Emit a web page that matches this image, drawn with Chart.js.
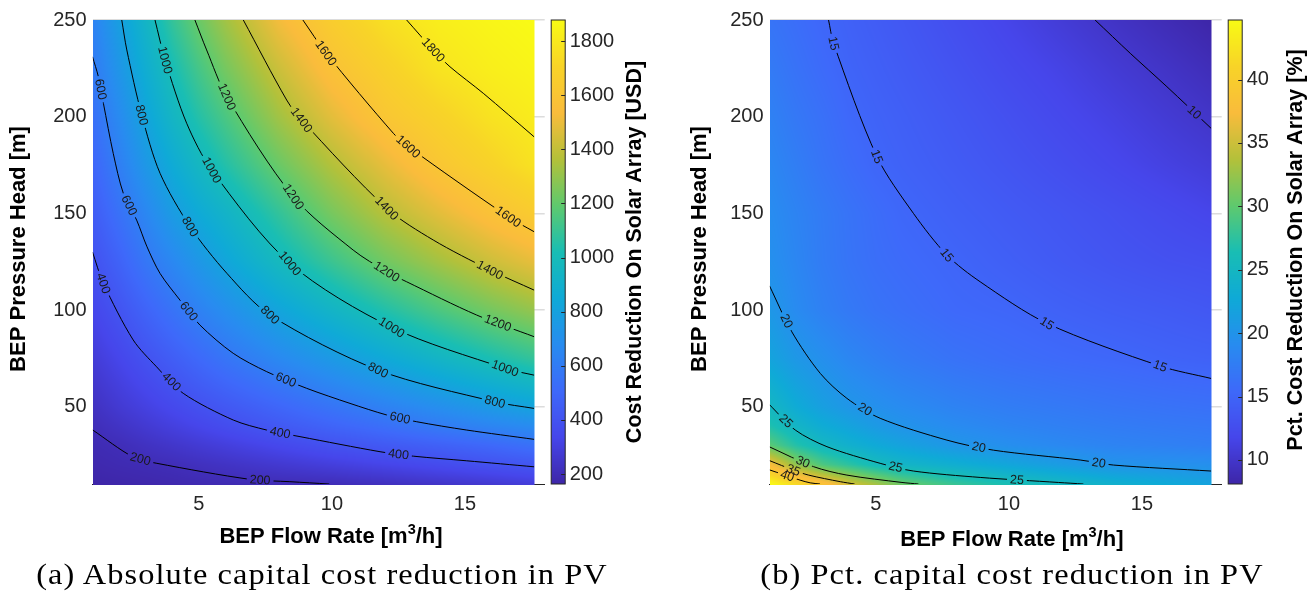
<!DOCTYPE html>
<html>
<head>
<meta charset="utf-8">
<title>Capital cost reduction in PV</title>
<script src="https://cdn.jsdelivr.net/npm/chart.js@4.4.1/dist/chart.umd.min.js"></script>
<style>
  html, body { margin: 0; padding: 0; background: #fff; }
  body { width: 1314px; height: 597px; position: relative; overflow: hidden; }
  .panel { position: absolute; top: 0; width: 657px; height: 560px; }
  .caption {
    position: absolute; top: 559px; transform: translateX(-50%) scaleX(1.08);
    font-family: 'Liberation Serif', 'Times New Roman', serif; font-size: 30px; line-height: 30px;
    letter-spacing: 1px; color: #000; white-space: nowrap;
  }
</style>
</head>
<body>
<div class="panel" style="left:0"><canvas id="absChart"></canvas></div>
<div class="panel" style="left:677px"><canvas id="pctChart"></canvas></div>
<div class="caption" style="left:322px">(a) Absolute capital cost reduction in PV</div>
<div class="caption" style="left:1012px">(b) Pct. capital cost reduction in PV</div>
<script>
// grid of the surface: BEP flow rate [m3/h] x BEP pressure head [m]
const flowRates = [1, 2, 3, 4, 5, 6, 8, 10, 12, 14, 16, 17.6];
const pressureHeads = [10, 20, 30, 40, 50, 75, 100, 125, 150, 175, 200, 225, 250];

// cost reduction on solar array [USD], one row per pressure head
const absReduction = [
  [163, 168, 173, 180, 186, 190, 197, 203, 222, 245, 268, 290],
  [178, 188, 196, 204, 220, 235, 266, 297, 328, 359, 390, 414],
  [190, 203, 227, 250, 274, 297, 344, 391, 430, 465, 505, 545],
  [205, 237, 270, 303, 335, 367, 427, 483, 539, 596, 645, 680],
  [226, 271, 309, 348, 387, 423, 493, 563, 630, 695, 761, 813],
  [281, 335, 393, 450, 507, 564, 664, 756, 847, 936, 1023, 1087],
  [336, 404, 480, 555, 627, 692, 819, 933, 1043, 1146, 1238, 1302],
  [390, 475, 573, 657, 742, 823, 972, 1105, 1228, 1330, 1425, 1489],
  [441, 546, 653, 765, 850, 923, 1082, 1241, 1371, 1477, 1577, 1645],
  [490, 614, 743, 856, 955, 1046, 1213, 1363, 1490, 1608, 1696, 1768],
  [540, 672, 816, 942, 1050, 1142, 1326, 1480, 1609, 1690, 1772, 1812],
  [589, 734, 877, 1011, 1130, 1238, 1420, 1579, 1682, 1776, 1824, 1850],
  [630, 785, 936, 1087, 1216, 1326, 1519, 1656, 1758, 1820, 1855, 1878]
];

// pct. cost reduction on solar array [%], one row per pressure head
const pctReduction = [
  [44.7, 41.5, 38.5, 35.3, 33.0, 30.5, 28.0, 26.3, 25.1, 23.8, 22.7, 21.8],
  [37.5, 32.2, 29.1, 27.4, 25.7, 24.6, 23.4, 22.2, 21.0, 19.95, 19.7, 19.5],
  [29.8, 27.0, 25.1, 23.8, 22.7, 21.8, 20.3, 19.4, 18.7, 18.2, 17.9, 17.6],
  [26.8, 24.6, 23.0, 21.9, 20.8, 20.0, 19.0, 18.3, 17.8, 17.4, 17.1, 16.9],
  [25.0, 22.9, 21.4, 20.3, 19.6, 19.0, 18.1, 17.5, 17.1, 16.7, 16.4, 16.2],
  [22.0, 20.5, 19.5, 18.5, 17.8, 17.2, 16.4, 15.9, 15.5, 15.2, 14.8, 14.6],
  [20.5, 19.0, 17.9, 17.1, 16.5, 16.1, 15.4, 15.1, 14.6, 14.2, 13.9, 13.6],
  [19.6, 18.5, 17.4, 16.6, 16.0, 15.6, 15.0, 14.4, 13.8, 13.3, 12.9, 12.7],
  [19.2, 18.2, 17.3, 16.5, 15.8, 15.2, 14.5, 13.9, 13.35, 12.8, 12.2, 11.7],
  [18.6, 17.6, 16.6, 15.8, 15.1, 14.7, 14.0, 13.3, 12.6, 11.9, 11.2, 10.7],
  [18.0, 17.0, 16.2, 15.3, 14.8, 14.4, 13.6, 12.8, 12.0, 11.25, 10.45, 9.85],
  [17.3, 16.4, 15.6, 14.9, 14.45, 14.0, 13.1, 12.2, 11.4, 10.5, 9.7, 9.0],
  [16.6, 15.9, 15.15, 14.6, 14.1, 13.6, 12.6, 11.6, 10.6, 9.67, 8.8, 8.1]
];

const flowTicks = [5, 10, 15];
const headTicks = [50, 100, 150, 200, 250];
const absBarTicks = [200, 400, 600, 800, 1000, 1200, 1400, 1600, 1800];
const pctBarTicks = [10, 15, 20, 25, 30, 35, 40];
const absRange = [163, 1878];
const pctRange = [8.1, 44.7];

// contour lines [flow, head]
const abs200 = [[1, 38], [2.52, 24], [3.42, 20.7], [6.92, 12.4], [8.42, 11.2], [9.9, 10]];
const abs400 = [[1, 130], [1.41, 113.8], [2.53, 84.5], [3.41, 70.6], [4.41, 56.9], [6.29, 43.1],
  [7.55, 37.9], [8.8, 34.5], [11.81, 26.7], [13.06, 24.4], [15.07, 22], [17.6, 18.9]];
const abs600 = [[1, 231], [1.22, 220.7], [1.41, 206.9], [1.78, 181], [2.16, 160.3], [2.66, 146.5], [3.04, 133],
  [3.54, 118.9], [4.29, 105.1], [5.04, 92.2], [6.29, 77.6], [7.55, 68.1], [9.05, 59.5], [10.68, 51.7],
  [12.06, 45.7], [13.19, 42.2], [15.07, 37.9], [17.6, 33.1]];
const abs800 = [[2.1, 250], [2.29, 234.5], [2.85, 200.9], [3.54, 170.7], [4.67, 143.1], [6.05, 119], [7.67, 97.4],
  [11.74, 68.9], [16.13, 52.5], [17.6, 49.1]];
const abs1000 = [[3.35, 250], [3.73, 229.3], [4.54, 196.6], [5.48, 172.4], [8.42, 124.1], [12.25, 91],
  [16.51, 69.8], [17.6, 66.3]];
const abs1200 = [[4.85, 250], [5.29, 234.5], [6.05, 210.3], [8.55, 158.6], [10.8, 131], [12.06, 119.8],
  [12.81, 114.6], [15.44, 97.4], [17.6, 86.2]];
const abs1400 = [[6.67, 250], [8.3, 208.6], [8.86, 198.3], [12.06, 152.6], [13.81, 136.2], [15.94, 120.7], [17.6, 110.3]];
const abs1600 = [[8.91, 250], [9.78, 232.9], [12.31, 191.4], [12.87, 184.5], [16.63, 148.2], [17.6, 140.5]];
const abs1800 = [[12.81, 250], [13.81, 234.5], [14.44, 225.8], [15.69, 212.1], [17.6, 189.6]];

const pct10 = [[13.24, 250], [14.56, 232.8], [15.94, 215.5], [17.6, 194]];
const pct15 = [[3.22, 250], [3.41, 237.9], [5.04, 179.3], [6.41, 150], [7.67, 128.4], [8.92, 114.6],
  [11.43, 93.1], [15.69, 71], [17.6, 64.6]];
const pct20 = [[1, 112.5], [1.84, 88.7], [2.91, 67.2], [3.91, 54.3], [5.16, 44], [7.67, 32.7], [9.42, 27.5],
  [12.68, 22.4], [13.93, 19.8], [17.6, 16.7]];
const pct25 = [[1, 51], [1.97, 37.9], [3.16, 29.3], [5.16, 20.7], [6.41, 16.7], [8.92, 13.4], [11.86, 10.8], [12.8, 10]];
const pct30 = [[1, 29.2], [2.65, 19], [3.91, 14.6], [5.98, 10.8], [6.6, 10]];
const pct35 = [[1, 22.1], [1.9, 17.2], [2.47, 14.6], [3.66, 11.2], [4.2, 10]];
const pct40 = [[1, 17.3], [2.15, 12], [2.53, 10.6], [2.9, 10]];

// where the level labels sit on each line
const absLabelSpots = [
  [[2.79, 22.4], [7.3, 11.7]],
  [[1.41, 113.8], [3.91, 62.1], [8.05, 36.2], [12.5, 25.0]],
  [[1.28, 214.1], [2.41, 154.3], [4.6, 99.1], [8.24, 62.9], [12.56, 44.1]],
  [[2.85, 200.9], [4.67, 143.1], [7.67, 97.4], [11.74, 68.9], [16.13, 52.5]],
  [[3.73, 229.3], [5.48, 172.4], [8.42, 124.1], [12.25, 91.0], [16.51, 69.8]],
  [[6.05, 210.3], [8.55, 158.6], [12.06, 119.8], [16.2, 91.7]],
  [[8.86, 198.3], [12.06, 152.6], [15.94, 120.7]],
  [[9.78, 232.9], [12.87, 184.5], [16.63, 148.2]],
  [[13.81, 234.5]]
];
const pctLabelSpots = [
  [[16.88, 200.9]],
  [[3.41, 237.9], [5.04, 179.3], [7.67, 128.4], [11.43, 93.1], [15.69, 71.0]],
  [[1.59, 93.9], [4.56, 47.9], [8.86, 28.4], [13.37, 20.3]],
  [[1.59, 42.2], [5.73, 18.1], [10.3, 11.7]],
  [[2.22, 20.3]],
  [[1.9, 17.2]],
  [[1.65, 13.4]]
];

const absLevels = [200, 400, 600, 800, 1000, 1200, 1400, 1600, 1800];
const absLines = [abs200, abs400, abs600, abs800, abs1000, abs1200, abs1400, abs1600, abs1800];
const pctLevels = [10, 15, 20, 25, 30, 35, 40];
const pctLines = [pct10, pct15, pct20, pct25, pct30, pct35, pct40];

const SANS = "'Liberation Sans', Arial, Helvetica, sans-serif";
const INK = '#262626';

// parula-like colormap
const parulaStops = [
  [0.00, 62, 38, 168],
  [0.10, 70, 70, 235],
  [0.20, 62, 105, 250],
  [0.30, 40, 140, 240],
  [0.40, 15, 170, 215],
  [0.50, 25, 190, 180],
  [0.60, 95, 202, 110],
  [0.70, 180, 193, 58],
  [0.80, 250, 188, 60],
  [0.90, 248, 212, 40],
  [1.00, 249, 251, 21]
];
function parula(t) {
  t = Math.min(1, Math.max(0, t));
  for (let i = 1; i < parulaStops.length; i++) {
    const b = parulaStops[i];
    if (t <= b[0]) {
      const a = parulaStops[i - 1];
      const f = (t - a[0]) / (b[0] - a[0]);
      return [a[1] + (b[1] - a[1]) * f, a[2] + (b[2] - a[2]) * f, a[3] + (b[3] - a[3]) * f];
    }
  }
  const l = parulaStops[parulaStops.length - 1];
  return [l[1], l[2], l[3]];
}

function locate(nodes, v) {
  let i = 0;
  while (i < nodes.length - 2 && v > nodes[i + 1]) i++;
  const f = Math.min(1, Math.max(0, (v - nodes[i]) / (nodes[i + 1] - nodes[i])));
  return [i, f];
}
function sample(grid, q, h) {
  const [i, fx] = locate(flowRates, q);
  const [j, fy] = locate(pressureHeads, h);
  const lo = grid[j][i] * (1 - fx) + grid[j][i + 1] * fx;
  const hi = grid[j + 1][i] * (1 - fx) + grid[j + 1][i + 1] * fx;
  return lo * (1 - fy) + hi * fy;
}

// snap each label spot onto its drawn line and find the text angle
function placeLabels(chart, cfg) {
  const { x, y } = chart.scales;
  const out = [];
  cfg.spots.forEach((spots, di) => {
    const pts = chart.getDatasetMeta(di).data;
    spots.forEach(([q, h]) => {
      const lx = x.getPixelForValue(q), ly = y.getPixelForValue(h);
      let best = null;
      for (let k = 0; k < pts.length - 1; k++) {
        const p = pts[k], n = pts[k + 1];
        const dx = n.x - p.x, dy = n.y - p.y, len2 = dx * dx + dy * dy || 1;
        const s = Math.min(1, Math.max(0, ((lx - p.x) * dx + (ly - p.y) * dy) / len2));
        const px = p.x + s * dx, py = p.y + s * dy;
        const d = (px - lx) ** 2 + (py - ly) ** 2;
        if (!best || d < best.d) best = { d, px, py, ang: Math.atan2(dy, dx) };
      }
      let ang = best.ang;
      if (ang > Math.PI / 2) ang -= Math.PI;
      if (ang < -Math.PI / 2) ang += Math.PI;
      out.push({ x: best.px, y: best.py, ang, text: String(cfg.levels[di]) });
    });
  });
  return out;
}

function surfacePlugin(cfg) {
  return {
    id: 'surface',
    beforeDatasetsDraw(chart) {
      const { ctx, chartArea: a, scales: { x, y } } = chart;
      const w = Math.ceil(a.right - a.left), h = Math.ceil(a.bottom - a.top) + 1;
      const off = document.createElement('canvas');
      off.width = w; off.height = h;
      const octx = off.getContext('2d');
      const img = octx.createImageData(w, h);
      const qMax = flowRates[flowRates.length - 1];
      for (let py = 0; py < h; py++) {
        const hv = Math.max(pressureHeads[0], y.getValueForPixel(a.top + py + 0.5));
        for (let px = 0; px < w; px++) {
          const qv = x.getValueForPixel(a.left + px + 0.5);
          if (qv > qMax) continue;
          const v = sample(cfg.grid, qv, hv);
          const c = parula((v - cfg.range[0]) / (cfg.range[1] - cfg.range[0]));
          const k = (py * w + px) * 4;
          img.data[k] = c[0]; img.data[k + 1] = c[1]; img.data[k + 2] = c[2]; img.data[k + 3] = 255;
        }
      }
      octx.putImageData(img, 0, 0);
      ctx.drawImage(off, a.left, a.top);

      // leave gaps in the lines where the labels go
      ctx.save();
      ctx.font = '12.5px ' + SANS;
      chart.$labels = placeLabels(chart, cfg);
      ctx.beginPath();
      ctx.rect(a.left, a.top, a.right - a.left, a.bottom - a.top + 2);
      chart.$labels.forEach(l => {
        const hw = ctx.measureText(l.text).width / 2 + 3, hh = 6;
        const c = Math.cos(l.ang), s = Math.sin(l.ang);
        [[-hw, -hh], [hw, -hh], [hw, hh], [-hw, hh]].forEach(([dx, dy], i) => {
          const px = l.x + dx * c - dy * s, py = l.y + dx * s + dy * c;
          if (i === 0) ctx.moveTo(px, py); else ctx.lineTo(px, py);
        });
        ctx.closePath();
      });
      ctx.clip('evenodd');
    },
    afterDatasetsDraw(chart) {
      const ctx = chart.ctx;
      ctx.restore();
      ctx.save();
      ctx.font = '12.5px ' + SANS;
      ctx.fillStyle = '#1a1a1a';
      ctx.textAlign = 'center';
      ctx.textBaseline = 'middle';
      (chart.$labels || []).forEach(l => {
        ctx.save();
        ctx.translate(l.x, l.y);
        ctx.rotate(l.ang);
        ctx.fillText(l.text, 0, 0.5);
        ctx.restore();
      });
      ctx.restore();
    },
    afterDraw(chart) {
      const { ctx, chartArea: a } = chart;
      const cb = chart.scales.cb;
      // colour bar
      const x0 = a.right + 6.5, bw = 14;
      for (let py = Math.floor(cb.top); py < Math.ceil(cb.bottom); py++) {
        const c = parula((cb.getValueForPixel(py + 0.5) - cfg.range[0]) / (cfg.range[1] - cfg.range[0]));
        ctx.fillStyle = `rgb(${c[0] | 0},${c[1] | 0},${c[2] | 0})`;
        ctx.fillRect(x0, py, bw, 1);
      }
      ctx.strokeStyle = INK;
      ctx.lineWidth = 1;
      ctx.strokeRect(x0, cb.top, bw, cb.bottom - cb.top);
      ctx.beginPath();
      cb.ticks.forEach(t => {
        const py = Math.round(cb.getPixelForValue(t.value)) + 0.5;
        ctx.moveTo(x0 + bw - 4, py);
        ctx.lineTo(x0 + bw, py);
      });
      ctx.stroke();

      // axis titles
      ctx.fillStyle = '#000';
      ctx.font = 'bold 22px ' + SANS;
      ctx.textAlign = 'center';
      ctx.textBaseline = 'alphabetic';
      const midY = (a.top + a.bottom) / 2;
      ctx.save();
      ctx.translate(a.left + cfg.yTitleDx, midY - 3);
      ctx.rotate(-Math.PI / 2);
      ctx.fillText('BEP Pressure Head [m]', 0, 0);
      ctx.restore();

      ctx.font = 'bold 21.5px ' + SANS;
      ctx.save();
      ctx.translate(a.right + cfg.cbTitleDx, midY + cfg.cbTitleDy);
      ctx.rotate(-Math.PI / 2);
      ctx.fillText(cfg.cbTitle, 0, 0);
      ctx.restore();

      // x title with a raised 3
      const partA = 'BEP Flow Rate [m', partB = '3', partC = '/h]';
      ctx.font = 'bold 22px ' + SANS;
      ctx.textAlign = 'left';
      const wA = ctx.measureText(partA).width, wC = ctx.measureText(partC).width;
      ctx.font = 'bold 14.5px ' + SANS;
      const wB = ctx.measureText(partB).width;
      const tx = a.left + cfg.xTitleDx - (wA + wB + wC) / 2;
      const by = cfg.xTitleBase;
      ctx.font = 'bold 22px ' + SANS;
      ctx.fillText(partA, tx, by);
      ctx.font = 'bold 14.5px ' + SANS;
      ctx.fillText(partB, tx + wA, by - 9);
      ctx.font = 'bold 22px ' + SANS;
      ctx.fillText(partC, tx + wA + wB, by);
    }
  };
}

function buildChart(id, cfg) {
  const datasets = cfg.lines.map((pts, i) => ({
    label: String(cfg.levels[i]),
    data: pts.map(([q, h]) => ({ x: q, y: h })),
    showLine: true,
    borderColor: '#000',
    borderWidth: 1,
    pointRadius: 0,
    tension: 0.3,
    fill: false
  }));
  const tickFont = { family: SANS, size: 20 };
  const plain = v => String(v);
  return new Chart(document.getElementById(id), {
    type: 'scatter',
    data: { datasets },
    options: {
      responsive: true,
      maintainAspectRatio: false,
      animation: false,
      events: [],
      layout: { padding: { top: 20, left: 0, right: 0, bottom: 0 } },
      plugins: { legend: { display: false }, tooltip: { enabled: false } },
      scales: {
        x: {
          type: 'linear', min: 1, max: 18,
          afterBuildTicks: s => { s.ticks = flowTicks.map(v => ({ value: v })); },
          grid: { display: false, drawTicks: false },
          border: { display: true, color: INK },
          ticks: { font: tickFont, color: INK, padding: 8, maxRotation: 0, autoSkip: false, callback: plain },
          afterFit: s => { s.height = 76; }
        },
        y: {
          type: 'linear', min: 10, max: 250,
          afterBuildTicks: s => { s.ticks = headTicks.map(v => ({ value: v })); },
          grid: { color: '#dcdcdc', lineWidth: 1.5, drawTicks: false },
          border: { display: false },
          ticks: { font: tickFont, color: INK, padding: 6, autoSkip: false, callback: plain },
          afterFit: s => { s.width = 92.5; }
        },
        cb: {
          type: 'linear', position: 'right', min: cfg.range[0], max: cfg.range[1],
          afterBuildTicks: s => { s.ticks = cfg.barTicks.map(v => ({ value: v })); },
          // the tick length only reserves room for the colour bar drawn by the plugin
          grid: { display: false, drawTicks: true, tickLength: 22 },
          border: { display: false },
          ticks: { font: tickFont, color: INK, padding: 3, autoSkip: false, callback: plain },
          afterFit: s => { s.width = 112.3; }
        }
      }
    },
    plugins: [surfacePlugin(cfg)]
  });
}

buildChart('absChart', {
  grid: absReduction, range: absRange, barTicks: absBarTicks,
  lines: absLines, levels: absLevels, spots: absLabelSpots,
  cbTitle: 'Cost Reduction On Solar Array [USD]',
  yTitleDx: -67.5, cbTitleDx: 95.8, cbTitleDy: 0, xTitleDx: 238.5, xTitleBase: 543
});
buildChart('pctChart', {
  grid: pctReduction, range: pctRange, barTicks: pctBarTicks,
  lines: pctLines, levels: pctLevels, spots: pctLabelSpots,
  cbTitle: 'Pct. Cost Reduction On Solar Array [%]',
  yTitleDx: -63.3, cbTitleDx: 80.5, cbTitleDy: -2, xTitleDx: 242.4, xTitleBase: 546
});
</script>
</body>
</html>
